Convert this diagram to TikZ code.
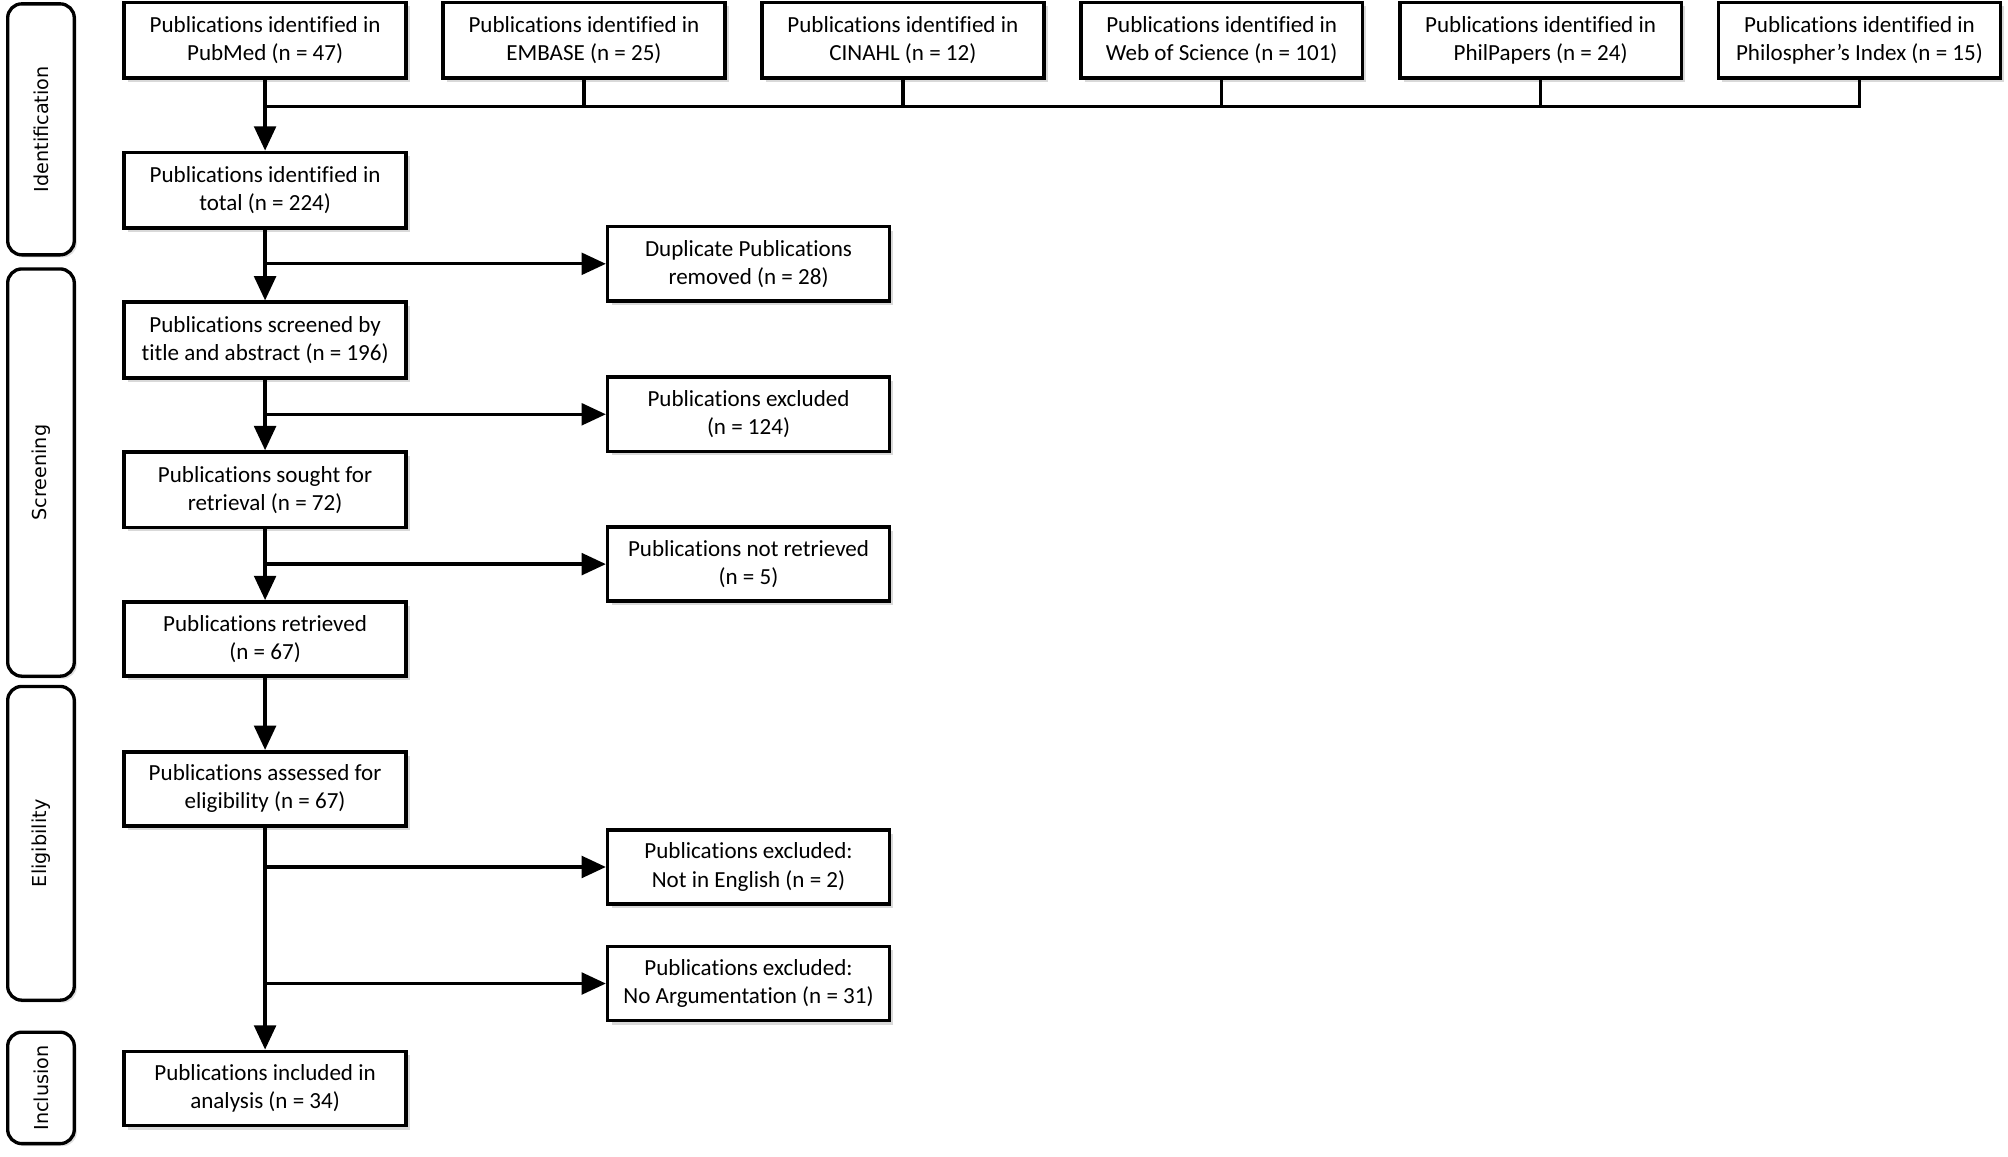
\documentclass[tikz,border=0pt]{standalone}
\usepackage{fontspec}
\setmainfont{Carlito}[Ligatures=NoCommon]
\newfontfamily\sidefont{DejaVu Sans}
\usetikzlibrary{arrows.meta,shadows}
\begin{document}
\begin{tikzpicture}[x=1pt,y=-1pt,
  box/.style={draw=black, line width=2.8pt, fill=white, minimum width=220pt, minimum height=59pt,
    inner sep=0pt, align=center, font=\fontsize{18}{22}\selectfont,
    drop shadow={shadow xshift=3pt, shadow yshift=-3pt, fill=black, opacity=0.15}},
  sidebox/.style={draw=black, fill=white, line width=2.6pt, rounded corners=11pt, minimum width=52pt,
    inner sep=0pt, drop shadow={shadow xshift=2pt, shadow yshift=-2pt, fill=black, opacity=0.12}},
  sidelabel/.style={rotate=90, font=\sidefont\fontsize{15}{18}\selectfont},
  conn/.style={line width=2.6pt},
  arr/.style={line width=2.6pt, -{Triangle[length=19pt,width=17pt]}}]
\useasboundingbox (0,0) rectangle (1568,903);
% phase boxes
\node[sidebox, minimum height=196pt] (sid) at (32,101) {};
\node[sidelabel] (sidl) at (sid) {Identification};
\node[sidebox, minimum height=318pt] (sscr) at (32,369) {};
\node[sidelabel] (sscrl) at (sscr) {Screening};
\node[sidebox, minimum height=245pt] (sel) at (32,658.5) {};
\node[sidelabel] (sell) at (sel) {Eligibility};
\node[sidebox, minimum height=87pt] (sinc) at (32,849.5) {};
\node[sidelabel] (sincl) at (sinc) {Inclusion};
% database boxes
\node[box] (pub) at (207,31.5) {Publications identified in\\PubMed (n = 47)};
\node[box] (emb) at (456,31.5) {Publications identified in\\EMBASE (n = 25)};
\node[box] (cin) at (705,31.5) {Publications identified in\\CINAHL (n = 12)};
\node[box] (wos) at (954,31.5) {Publications identified in\\Web of Science (n = 101)};
\node[box] (php) at (1203,31.5) {Publications identified in\\PhilPapers (n = 24)};
\node[box] (phi) at (1452,31.5) {Publications identified in\\Philospher’s Index (n = 15)};
% main flow
\node[box] (tot) at (207,148.5) {Publications identified in\\total (n = 224)};
\node[box, minimum height=58pt] (dup) at (584.5,206) {Duplicate Publications\\removed (n = 28)};
\node[box] (scr) at (207,265.5) {Publications screened by\\title and abstract (n = 196)};
\node[box, minimum height=58pt] (exc) at (584.5,323.5) {Publications excluded\\(n = 124)};
\node[box] (sou) at (207,382.5) {Publications sought for\\retrieval (n = 72)};
\node[box, minimum height=58pt] (nre) at (584.5,440.5) {Publications not retrieved\\(n = 5)};
\node[box, minimum height=58pt] (ret) at (207,499) {Publications retrieved\\(n = 67)};
\node[box, minimum height=58pt] (ass) at (207,616) {Publications assessed for\\eligibility (n = 67)};
\node[box, minimum height=58pt] (exe) at (584.5,677) {Publications excluded:\\Not in English (n = 2)};
\node[box, minimum height=58pt] (exa) at (584.5,768) {Publications excluded:\\No Argumentation (n = 31)};
\node[box, minimum height=58pt] (inc) at (207,850) {Publications included in\\analysis (n = 34)};
% connectors
\coordinate (bary) at (0,83);
\draw[conn] (phi.south) -- (phi.south |- bary) -- (pub.south |- bary);
\draw[conn] (emb.south) -- (emb.south |- bary);
\draw[conn] (cin.south) -- (cin.south |- bary);
\draw[conn] (wos.south) -- (wos.south |- bary);
\draw[conn] (php.south) -- (php.south |- bary);
\draw[arr] (pub.south) -- (tot.north);
\draw[arr] (tot.south) -- (scr.north);
\draw[arr] (tot.south |- dup.west) -- (dup.west);
\draw[arr] (scr.south) -- (sou.north);
\draw[arr] (scr.south |- exc.west) -- (exc.west);
\draw[arr] (sou.south) -- (ret.north);
\draw[arr] (sou.south |- nre.west) -- (nre.west);
\draw[arr] (ret.south) -- (ass.north);
\draw[arr] (ass.south) -- (inc.north);
\draw[arr] (ass.south |- exe.west) -- (exe.west);
\draw[arr] (ass.south |- exa.west) -- (exa.west);
\end{tikzpicture}
\end{document}
